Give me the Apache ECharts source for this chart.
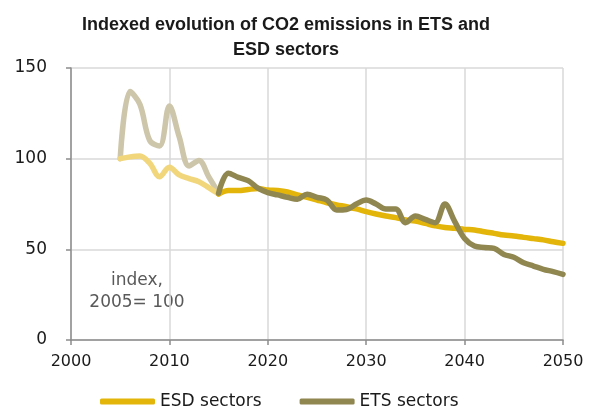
<!DOCTYPE html>
<html><head><meta charset="utf-8">
<script src="https://cdn.jsdelivr.net/npm/echarts@6/dist/echarts.min.js"></script>
<style>html,body{margin:0;padding:0;background:#fff}#c{width:593px;height:412px}</style>
</head><body><div id="c"></div>
<script>
const years = [2005,2006,2007,2008,2009,2010,2011,2012,2013,2014,2015,2016,2017,2018,2019,2020,2021,2022,2023,2024,2025,2026,2027,2028,2029,2030,2031,2032,2033,2034,2035,2036,2037,2038,2039,2040,2041,2042,2043,2044,2045,2046,2047,2048,2049,2050];
const esd = [100,101,101.5,97.5,90,95.3,91,89,87.3,84,80.5,82.4,82.4,83,83.5,82.7,82.4,81.6,80,78.7,77.2,75.7,74.5,73.5,72.3,70.8,69.5,68.4,67.5,66.2,65.6,64.3,63,62,61.6,61,60.7,59.7,58.8,57.9,57.4,56.6,55.9,55.2,54.2,53.3];
const ets = [100,137,130,110,107,129,112,96,99,90,81,92,89.7,87.9,83.7,81.3,80,78.7,77.6,80.4,78.7,77.2,71.7,72,75,77.2,75,72.3,72.3,64.7,68.4,66.5,64.7,75,65.3,56,51.8,51,50.5,47.2,45.6,42.6,40.8,39,37.7,36.2];
const splitYear = 2015;
const yTicks = [0,50,100,150];
const xTicks = [2000,2010,2020,2030,2040,2050];

const pairs = (vals, from, to) => years.map((y,i)=>[y,vals[i]]).filter(p=>p[0]>=from && p[0]<=to);

const chart = echarts.init(document.getElementById('c'));
const FONT = 'DejaVu Sans';
chart.setOption({
  animation:false,
  title:{text:'Indexed evolution of CO2 emissions in ETS and\nESD sectors', left:281, top:8, textAlign:'center',
    textStyle:{fontFamily:'Liberation Sans', fontWeight:'bold', fontSize:18, color:'#1a1a1a', lineHeight:25}},
  grid:{left:71, right:30, top:68, bottom:72},
  xAxis:{type:'value', min:xTicks[0], max:xTicks[xTicks.length-1], interval:10,
    axisLine:{show:true, onZero:false, lineStyle:{color:'#8c8c8c', width:1.5}},
    axisTick:{show:true, length:5, lineStyle:{color:'#8c8c8c', width:1.5}},
    axisLabel:{fontFamily:FONT, fontSize:16, color:'#1a1a1a', margin:14, formatter:v=>String(v)},
    splitLine:{show:true, lineStyle:{color:'#d9d9d9', width:1.5}}},
  yAxis:{type:'value', min:yTicks[0], max:yTicks[yTicks.length-1], interval:50,
    axisLine:{show:true, lineStyle:{color:'#8c8c8c', width:1.5}},
    axisTick:{show:true, length:5, lineStyle:{color:'#8c8c8c', width:1.5}},
    axisLabel:{fontFamily:FONT, fontSize:17, color:'#1a1a1a', margin:24},
    splitLine:{show:true, lineStyle:{color:'#d9d9d9', width:1.5}}},
  legend:{bottom:2, left:100, padding:0, data:['ESD sectors','ETS sectors'], icon:'roundRect', itemWidth:55, itemHeight:6, itemGap:38,
    textStyle:{fontFamily:FONT, fontSize:17, color:'#1a1a1a'}},
  graphic:[
    {type:'text', x:137, y:281, style:{text:'index,', fontFamily:FONT, fontSize:17, fill:'#595959', align:'center', verticalAlign:'middle'}},
    {type:'text', x:137, y:303, style:{text:'2005= 100', fontFamily:FONT, fontSize:17, fill:'#595959', align:'center', verticalAlign:'middle'}}
  ],
  series:[
    {name:'ETS hist', type:'line', data:pairs(ets,2005,splitYear), smooth:0.35, symbol:'none', lineStyle:{color:'#cdc6aa', width:5.5, cap:'round', join:'round'}},
    {name:'ESD hist', type:'line', data:pairs(esd,2005,splitYear), smooth:0.35, symbol:'none', lineStyle:{color:'#f1d67c', width:5.5, cap:'round', join:'round'}},
    {name:'ESD sectors', type:'line', color:'#e3b50b', data:pairs(esd,splitYear,2050), smooth:0.35, symbol:'none', lineStyle:{color:'#e3b50b', width:5.5, cap:'round', join:'round'}},
    {name:'ETS sectors', type:'line', color:'#8f8650', data:pairs(ets,splitYear,2050), smooth:0.35, symbol:'none', lineStyle:{color:'#8f8650', width:5.5, cap:'round', join:'round'}}
  ]
});
</script></body></html>
